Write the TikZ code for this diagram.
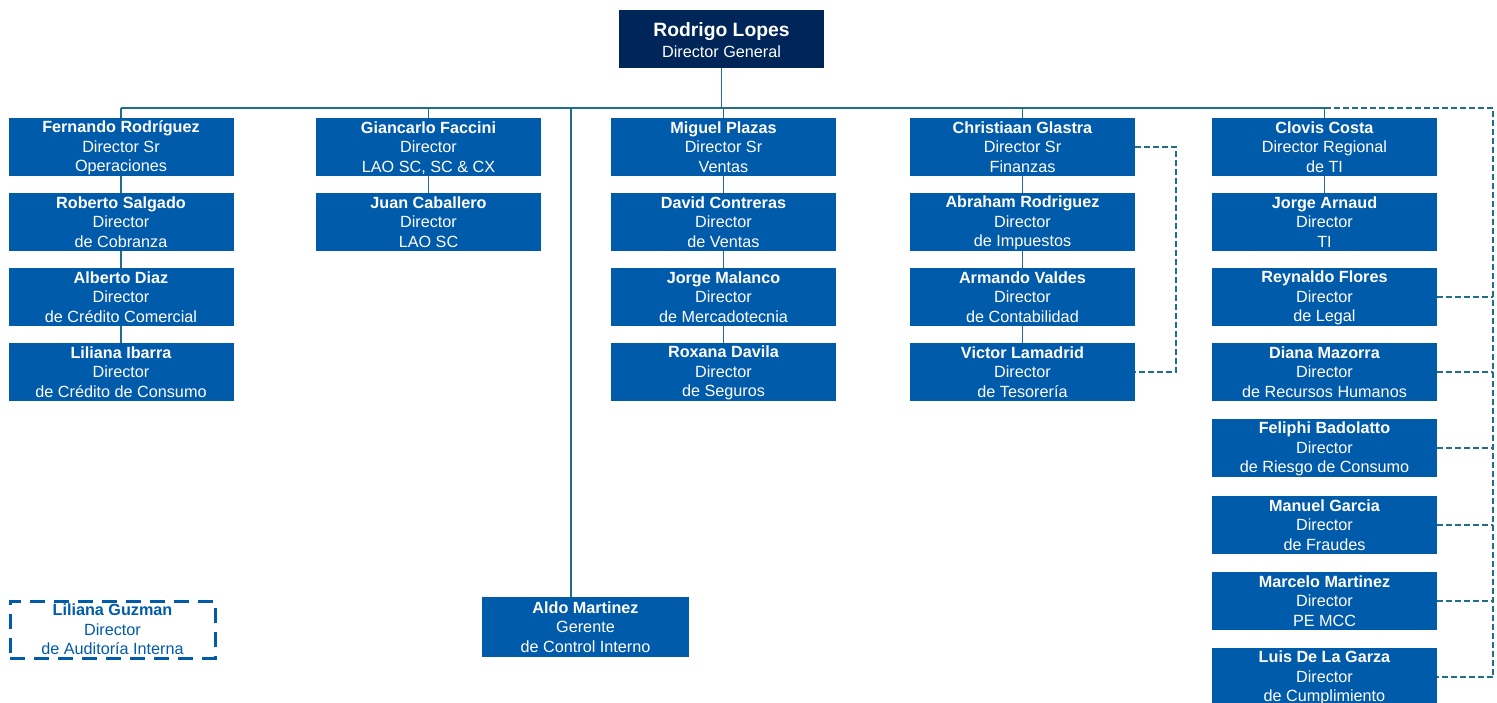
\documentclass[tikz,border=0pt]{standalone}
\usepackage{fontspec}
\setmainfont{Liberation Sans}
\definecolor{boxblue}{RGB}{0,91,170}
\definecolor{navy}{RGB}{0,37,88}
\definecolor{linecol}{RGB}{32,111,138}
\newcommand{\lstrut}{\rule[-5pt]{0pt}{17pt}}
\newcommand{\fstrut}{\rule[-5pt]{0pt}{19pt}}
\newcommand{\bstrut}{\rule[-3pt]{0pt}{17pt}}
\tikzset{
  pbox/.style={fill=boxblue,text=white,minimum width=225pt,minimum height=58pt,inner sep=0pt,align=center,font=\fontsize{16.2}{19.5}\selectfont},
  link/.style={draw=linecol,line width=1.6pt},
  dlink/.style={draw=linecol,line width=1.6pt,dash pattern=on 6pt off 3pt},
}
\newcommand{\pnode}[6]{\node[pbox] (#1) at (#2,#3) {\fstrut\textbf{#4}\\\lstrut#5\\\bstrut#6};}
\begin{document}
\begin{tikzpicture}[x=1pt,y=-1pt]
\useasboundingbox[fill=white] (0,0) rectangle (1497,702);
% top
\node[fill=navy,text=white,minimum width=205pt,minimum height=58pt,inner sep=0pt,align=center] (top) at (721.5,39)
  {{\fontsize{19.3}{22}\selectfont\bfseries\rule[-5pt]{0pt}{26pt}Rodrigo Lopes}\\[4pt]{\fontsize{16.2}{18}\selectfont\rule[-5pt]{0pt}{16pt}Director General}};
% column 1
\pnode{c1a}{121}{147}{Fernando Rodríguez}{Director Sr}{Operaciones}
\pnode{c1b}{121}{222}{Roberto Salgado}{Director}{de Cobranza}
\pnode{c1c}{121}{297}{Alberto Diaz}{Director}{de Crédito Comercial}
\pnode{c1d}{121}{372}{Liliana Ibarra}{Director}{de Crédito de Consumo}
% column 2
\pnode{c2a}{428.5}{147}{Giancarlo Faccini}{Director}{LAO SC, SC \& CX}
\pnode{c2b}{428.5}{222}{Juan Caballero}{Director}{LAO SC}
% column 3
\pnode{c3a}{723.5}{147}{Miguel Plazas}{Director Sr}{Ventas}
\pnode{c3b}{723.5}{222}{David Contreras}{Director}{de Ventas}
\pnode{c3c}{723.5}{297}{Jorge Malanco}{Director}{de Mercadotecnia}
\pnode{c3d}{723.5}{372}{Roxana Davila}{Director}{de Seguros}
% column 4
\pnode{c4a}{1022.5}{147}{Christiaan Glastra}{Director Sr}{Finanzas}
\pnode{c4b}{1022.5}{222}{Abraham Rodriguez}{Director}{de Impuestos}
\pnode{c4c}{1022.5}{297}{Armando Valdes}{Director}{de Contabilidad}
\pnode{c4d}{1022.5}{372}{Victor Lamadrid}{Director}{de Tesorería}
% column 5
\pnode{c5a}{1324.5}{147}{Clovis Costa}{Director Regional}{de TI}
\pnode{c5b}{1324.5}{222}{Jorge Arnaud}{Director}{TI}
\pnode{c5c}{1324.5}{297}{Reynaldo Flores}{Director}{de Legal}
\pnode{c5d}{1324.5}{372}{Diana Mazorra}{Director}{de Recursos Humanos}
\pnode{c5e}{1324.5}{448}{Feliphi Badolatto}{Director}{de Riesgo de Consumo}
\pnode{c5f}{1324.5}{525}{Manuel Garcia}{Director}{de Fraudes}
\pnode{c5g}{1324.5}{601}{Marcelo Martinez}{Director}{PE MCC}
\pnode{c5h}{1324.5}{677}{Luis De La Garza}{Director}{de Cumplimiento}
% Aldo
\node[pbox,minimum width=207pt,minimum height=60pt] (aldo) at (585.5,627) {\fstrut\textbf{Aldo Martinez}\\\lstrut Gerente\\\bstrut de Control Interno};
% Liliana Guzman
\node[draw=boxblue,line width=3pt,dash pattern=on 15pt off 9pt,text=boxblue,minimum width=205pt,minimum height=57pt,inner sep=0pt,align=center,font=\fontsize{16.2}{19.5}\selectfont] (lg) at (112.5,629.5) {\fstrut\textbf{Liliana Guzman}\\\lstrut Director\\\bstrut de Auditoría Interna};
% bus
\coordinate (bus) at (top.south |- 0,108);
\coordinate (busL) at (c1a.north |- bus);
\coordinate (busR) at (c5a.north |- bus);
\coordinate (busA) at (571,108);
\coordinate (dR) at (1493,108);
\draw[link] (top.south) -- (bus);
\draw[link] (busL) -- (busR);
\foreach \n in {c1a,c2a,c3a,c4a,c5a}{\draw[link] (\n.north |- bus) -- (\n.north);}
\draw[link] (busA) -- (busA |- aldo.north);
% column links
\draw[link] (c1a) -- (c1b); \draw[link] (c1b) -- (c1c); \draw[link] (c1c) -- (c1d);
\draw[link] (c2a) -- (c2b);
\draw[link] (c3a) -- (c3b); \draw[link] (c3b) -- (c3c); \draw[link] (c3c) -- (c3d);
\draw[link] (c4a) -- (c4b); \draw[link] (c4b) -- (c4c); \draw[link] (c4c) -- (c4d);
\draw[link] (c5a) -- (c5b);
% dashed: finance
\draw[dlink] (c4a.east) -- ++(41,0) |- (c4d.east);
% dashed: right side
\draw[dlink] (busR) -- (dR) -- (dR |- c5h.east) -- (c5h.east);
\foreach \n in {c5c,c5d,c5e,c5f,c5g}{\draw[dlink] (\n.east) -- (dR |- \n.east);}
\end{tikzpicture}
\end{document}
